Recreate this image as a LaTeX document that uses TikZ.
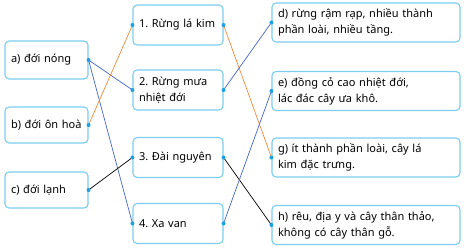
\documentclass[tikz,border=0pt]{standalone}
\usepackage{fontspec}
\setmainfont{Noto Sans}
\usetikzlibrary{positioning}
\definecolor{boxline}{HTML}{7CCDEE}
\definecolor{dotblue}{HTML}{1FA0DE}
\definecolor{linkblue}{HTML}{4466C8}
\definecolor{linkorange}{HTML}{EE8A3A}

\tikzset{
  zone/.style={draw=boxline,line width=1.1pt,rounded corners=4pt,
    minimum width=83pt,inner xsep=6pt,inner ysep=3pt,align=left,text width=71pt,
    font=\fontsize{11}{16}\selectfont\frenchspacing},
  biome/.style={zone,minimum width=90pt,minimum height=40pt,text width=78pt},
  trait/.style={zone,minimum width=188pt,minimum height=39pt,text width=176pt},
  link/.style={line width=0.7pt}
}

\begin{document}
\begin{tikzpicture}[x=1pt,y=-1pt]
      \useasboundingbox (0,0) rectangle (465,251);

      % left column
      \node[zone,minimum height=38pt] (a) at (46.5,60) {a) đới nóng};
      \node[zone,minimum height=36pt] (b) at (46.5,125) {b) đới ôn hoà};
      \node[zone,minimum height=36pt] (c) at (46.5,190) {c) đới lạnh};

      % middle column
      \node[biome] (m1) at (178,25) {1. Rừng lá kim};
      \node[biome] (m2) at (178,90) {2. Rừng mưa\\nhiệt đới};
      \node[biome] (m3) at (178,157.5) {3. Đài nguyên};
      \node[biome] (m4) at (178,223.5) {4. Xa van};

      % right column
      \node[trait] (d) at (366,22.5) {d) rừng rậm rạp, nhiều thành\\phần loài, nhiều tầng.};
      \node[trait] (e) at (366,91) {e) đồng cỏ cao nhiệt đới,\\lác đác cây ưa khô.};
      \node[trait] (g) at (366,157.5) {g) ít thành phần loài, cây lá\\kim đặc trưng.};
      \node[trait] (h) at (366,225) {h) rêu, địa y và cây thân thảo,\\không có cây thân gỗ.};

      % links
      \draw[link,linkblue] (a.east) -- (m2.west);
      \draw[link,linkblue] (a.east) -- (m4.west);
      \draw[link,linkorange] (b.east) -- (m1.west);
      \draw[link,black] (c.east) -- (m3.west);
      \draw[link,linkorange] (m1.east) -- (g.west);
      \draw[link,linkblue] (m2.east) -- (d.west);
      \draw[link,black] (m3.east) -- (h.west);
      \draw[link,linkblue] (m4.east) -- (e.west);

      % dots
      \foreach \n in {a,b,c,m1,m2,m3,m4}
        \fill[dotblue] (\n.east) circle (2pt);
      \foreach \n in {m1,m2,m3,m4,d,e,g,h}
        \fill[dotblue] (\n.west) circle (2pt);

    \end{tikzpicture}
\end{document}
